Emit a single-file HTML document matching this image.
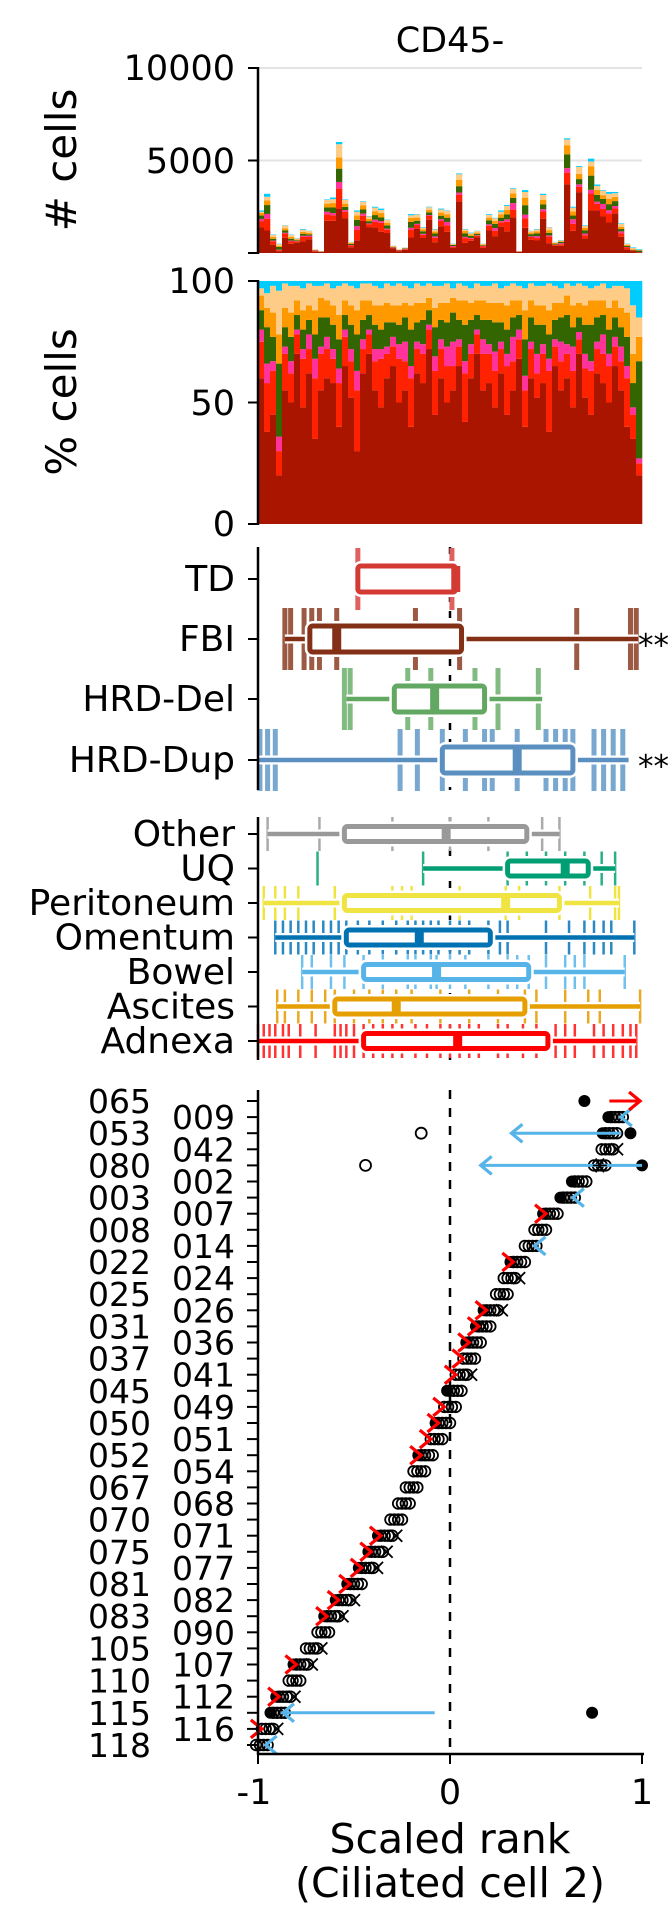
<!DOCTYPE html>
<html><head><meta charset="utf-8"><title>CD45- chart</title>
<style>
html,body{margin:0;padding:0;background:#fff;}
svg{display:block;font-family:"DejaVu Sans","Liberation Sans",sans-serif;}
</style></head>
<body>
<svg id="chart" xmlns="http://www.w3.org/2000/svg" width="672" height="1920" viewBox="0 0 672 1920">
<rect x="0" y="0" width="672" height="1920" fill="#fff"/>
<text x="450" y="52" font-size="35" text-anchor="middle">CD45-</text>
<g>
<line x1="258" y1="160.5" x2="642" y2="160.5" stroke="#e3e3e3" stroke-width="2"/>
<line x1="258" y1="68" x2="642" y2="68" stroke="#e3e3e3" stroke-width="2"/>
<g id="countBars"></g>
<line x1="258" y1="67" x2="258" y2="254" stroke="#000" stroke-width="2.5"/>
<g stroke="#000" stroke-width="2">
<line x1="248" y1="68" x2="258" y2="68"/><line x1="248" y1="160.5" x2="258" y2="160.5"/><line x1="248" y1="253" x2="258" y2="253"/></g>
<g font-size="35" text-anchor="end">
<text x="235" y="80">10000</text><text x="235" y="173">5000</text></g>
<text transform="translate(76,160) rotate(-90)" font-size="42" text-anchor="middle"># cells</text>
</g>
<g>
<g id="pctBars"></g>
<line x1="258" y1="280" x2="258" y2="525" stroke="#000" stroke-width="2.5"/>
<g stroke="#000" stroke-width="2">
<line x1="248" y1="281" x2="258" y2="281"/><line x1="248" y1="402.5" x2="258" y2="402.5"/><line x1="248" y1="524" x2="258" y2="524"/></g>
<g font-size="35" text-anchor="end">
<text x="235" y="293">100</text><text x="235" y="415">50</text><text x="235" y="536">0</text></g>
<text transform="translate(76,402) rotate(-90)" font-size="42" text-anchor="middle">% cells</text>
</g>
<g id="box1"></g>
<g id="box2"></g>
<g id="scatter"></g>
<g>
<line x1="257" y1="1754" x2="644" y2="1754" stroke="#000" stroke-width="2.5"/>
<g stroke="#000" stroke-width="2"><line x1="258" y1="1754" x2="258" y2="1764"/><line x1="450" y1="1754" x2="450" y2="1764"/><line x1="642" y1="1754" x2="642" y2="1764"/></g>
<g font-size="35" text-anchor="middle">
<text x="254" y="1804">-1</text><text x="450" y="1804">0</text><text x="642" y="1804">1</text></g>
<text x="450" y="1853" font-size="41" text-anchor="middle">Scaled rank</text>
<text x="450" y="1897" font-size="41" text-anchor="middle">(Ciliated cell 2)</text>
</g>
</svg>
<script>
const countTotals = [2.3,3.2,1.0,0.5,1.5,1.0,0.8,1.3,1.2,0.2,0.1,2.9,3.0,6.0,2.9,0.6,2.3,2.8,2.0,2.5,2.4,1.8,0.4,0.2,0.3,2.1,2.1,1.4,2.5,1.3,2.4,2.3,0.5,4.3,1.3,1.1,1.2,0.5,2.1,1.9,2.3,2.6,3.5,0.1,3.4,1.2,1.3,3.2,1.4,0.6,0.7,6.2,2.5,4.7,1.5,5.1,3.7,3.4,3.3,3.3,1.6,0.5,0.3,0.2];
const pctDarkRed = [60,38,45,20,55,50,70,48,62,35,55,60,58,40,65,52,30,62,70,55,48,60,65,50,55,40,62,58,72,45,60,50,55,65,42,60,70,55,58,48,62,45,55,68,40,60,52,58,38,65,55,60,48,70,52,45,62,58,50,65,55,40,35,20];
const pctRed = [15,20,18,10,15,12,8,20,10,25,15,12,10,18,12,15,25,10,8,12,20,10,8,18,12,20,10,12,8,18,12,15,10,8,20,10,8,15,12,15,10,20,12,8,15,12,10,12,25,8,12,10,15,6,12,18,10,12,15,8,12,20,10,5];
const pctPink = [5,8,4,6,3,5,2,4,6,8,3,5,4,6,3,5,8,4,2,5,4,3,4,6,8,5,3,4,2,6,4,8,10,3,5,4,2,6,4,8,3,5,10,4,6,3,8,4,5,3,8,4,10,3,6,4,3,8,5,4,6,5,3,2];
const pctGreen = [8,15,10,30,8,10,6,8,6,10,12,8,10,12,6,10,15,8,6,10,8,10,6,8,10,15,8,10,6,12,8,10,12,8,15,10,6,8,10,12,8,10,8,6,15,10,12,8,10,8,10,12,8,6,12,15,10,8,10,8,8,12,10,40];
const pctOrange = [6,8,10,12,8,10,6,8,6,10,8,7,8,10,6,8,10,8,6,8,10,8,7,8,6,10,8,7,5,8,7,8,6,8,10,7,6,8,7,8,8,10,7,6,12,7,8,8,10,7,6,8,9,6,8,10,7,6,9,7,8,10,12,10];
const pctCyan = [3,5,2,4,1,2,2,3,1,2,2,1,3,2,1,2,3,1,1,2,3,1,2,1,2,3,1,2,1,2,2,1,3,1,2,3,1,2,2,1,3,2,1,2,3,1,2,2,1,2,3,1,2,1,2,3,2,1,3,2,2,3,10,15];
const layerColors = ['#aa1500','#ff2200','#ff3399','#336600','#ff9900','#ffcc88','#00ccff'];

const sigNames = ['TD','FBI','HRD-Del','HRD-Dup'];
const sigStats = [[-0.48,-0.48,0.03,0.03,0.03],[-0.86,-0.73,-0.59,0.06,0.98],[-0.54,-0.29,-0.08,0.18,0.48],[-1.0,-0.04,0.35,0.64,0.93]];
const sigRugTD = [-0.48,0.01];
const sigRugFBI = [-0.86,-0.83,-0.76,-0.72,-0.68,-0.59,-0.18,0.05,0.66,0.94,0.97];
const sigRugDel = [-0.55,-0.52,-0.22,-0.1,0.13,0.25,0.46];
const sigRugDup = [-0.99,-0.95,-0.91,-0.26,-0.17,-0.04,0.08,0.18,0.22,0.35,0.5,0.55,0.6,0.64,0.75,0.8,0.85,0.9];
const sigStars = ['','**','','**'];
const siteNames = ['Other','UQ','Peritoneum','Omentum','Bowel','Ascites','Adnexa'];
const siteStats = [[-0.95,-0.55,-0.02,0.40,0.57],[-0.14,0.30,0.60,0.72,0.86],[-0.97,-0.55,0.29,0.57,0.88],[-0.91,-0.54,-0.16,0.21,0.96],[-0.77,-0.45,-0.07,0.41,0.91],[-0.90,-0.60,-0.28,0.39,0.99],[-1.0,-0.45,0.04,0.51,0.97]];
const rugOther = [-0.95,-0.68,-0.3,0.0,0.2,0.48,0.57];
const rugUQ = [-0.69,-0.14,0.3,0.4,0.5,0.6,0.7,0.79,0.86];
const rugPerit = [-0.97,-0.91,-0.86,-0.79,-0.6,-0.3,-0.25,-0.2,0.05,0.29,0.36,0.57,0.73,0.86,0.88];
const rugOment = [-0.91,-0.87,-0.83,-0.79,-0.75,-0.71,-0.66,-0.62,-0.58,-0.54,-0.48,-0.42,-0.35,-0.28,-0.22,-0.18,-0.14,-0.1,-0.06,0.0,0.05,0.1,0.2,0.26,0.3,0.5,0.62,0.7,0.75,0.8,0.84,0.96];
const rugBowel = [-0.77,-0.72,-0.62,-0.55,-0.45,-0.35,-0.22,-0.18,-0.1,-0.07,0.0,0.08,0.2,0.3,0.35,0.41,0.5,0.6,0.65,0.7,0.91];
const rugAsc = [-0.9,-0.86,-0.79,-0.72,-0.65,-0.6,-0.5,-0.42,-0.35,-0.28,-0.2,-0.05,0.1,0.25,0.39,0.45,0.6,0.72,0.78,0.99];
const rugAdn = [-1,-0.97,-0.94,-0.91,-0.87,-0.84,-0.78,-0.7,-0.6,-0.57,-0.54,-0.5,-0.45,-0.4,-0.35,-0.3,-0.25,-0.18,-0.12,-0.05,0.0,0.05,0.1,0.15,0.25,0.3,0.38,0.45,0.55,0.6,0.65,0.75,0.8,0.85,0.9,0.94,0.97];

const rowLabels = ['065','009','053','042','080','002','003','007','008','014','022','024','025','026','031','036','037','041','045','049','050','051','052','054','067','068','070','071','075','077','081','082','083','090','105','107','110','112','115','116','118'];
const rowCenters = [0.97,0.87,0.84,0.82,0.78,0.68,0.62,0.53,0.47,0.42,0.36,0.31,0.27,0.22,0.18,0.13,0.10,0.06,0.03,0.00,-0.03,-0.07,-0.12,-0.16,-0.20,-0.24,-0.28,-0.33,-0.38,-0.43,-0.49,-0.55,-0.61,-0.66,-0.72,-0.77,-0.81,-0.86,-0.89,-0.95,-0.98];
const rowFilled = [0,1,1,0,0,1,1,1,0,0,1,0,0,1,1,1,0,0,1,0,1,0,1,0,0,0,0,1,1,1,1,1,1,0,0,1,0,1,1,0,0];
const rowRedArrow = [0,0,0,0,0,0,0,1,0,0,1,0,0,1,1,1,1,1,0,1,1,1,1,0,0,0,0,1,1,1,1,1,1,0,0,1,0,1,0,1,0];
const rowCross = [0,0,0,1,0,0,0,0,0,0,0,1,0,1,0,0,0,1,0,0,0,0,0,0,0,0,0,1,1,1,0,1,1,0,1,1,0,1,0,1,0];
const rowBlueArrow = [0,1,0,0,0,0,1,0,0,1,0,0,0,0,0,0,0,0,0,0,0,0,0,0,0,0,0,0,0,0,0,0,0,0,0,0,0,0,0,0,1];
const outlierRows = [2,4];
const outlierValues = [-0.15,-0.44];
const extraFilledRows = [0,2,4,38];
const extraFilledValues = [0.70,0.94,1.0,0.74];
const longBlueRows = [2,4,38];
const longBlueFrom = [0.89,1.0,-0.08];
const longBlueTo = [0.32,0.16,-0.87];

const NS = 'http://www.w3.org/2000/svg';
const X0 = 258, PW = 384;
function xs(v){ return 450 + 192*v; }
function yCount(c){ return 253 - c/10*185; }
function yPct(p){ return 524 - p*2.43; }
function rowY(i){ return 1101 + 16.1*i; }
function mk(tag, attrs, parent){ const e=document.createElementNS(NS,tag); for(const k in attrs) e.setAttribute(k,attrs[k]); parent.appendChild(e); return e; }

const cg = document.getElementById('countBars');
const pg = document.getElementById('pctBars');
const nBars = countTotals.length;
const bw = PW/nBars;
for(let i=0;i<nBars;i++){
  let others = pctDarkRed[i]+pctRed[i]+pctPink[i]+pctGreen[i]+pctOrange[i]+pctCyan[i];
  let peach = Math.max(0,100-others);
  const parts=[pctDarkRed[i],pctRed[i],pctPink[i],pctGreen[i],pctOrange[i],peach,pctCyan[i]];
  const sum = parts.reduce((a,b)=>a+b,0);
  let accP=0, accC=0;
  const x = X0 + i*bw;
  for(let k=0;k<parts.length;k++){
    const f = parts[k]/sum;
    const p0=accP, p1=accP+f*100; accP=p1;
    const r = mk('rect',{x:x,y:yPct(p1),width:bw+0.3,height:yPct(p0)-yPct(p1),fill:layerColors[k]},pg);
    
    
    const c0=accC, c1=accC+f*countTotals[i]; accC=c1;
    const r2 = mk('rect',{x:x,y:yCount(c1),width:bw+0.3,height:yCount(c0)-yCount(c1),fill:layerColors[k]},cg);
    
    
  }
}

function drawPanel(g, names, stats, rugs, colors, rugColors, y0, y1, rowPos, boxH, rugH, rugW, fontSize, stars, panelName){
  const zl = mk('line',{x1:450,y1:y0,x2:450,y2:y1,stroke:'#000','stroke-width':2.5,'stroke-dasharray':'7,9'},g);
  
  
  for(let i=0;i<names.length;i++){
    const y=rowPos[i], s=stats[i], col=colors[i];
    for(const v of rugs[i]){
      const rr = mk('rect',{x:xs(v)-rugW/2,y:y-rugH,width:rugW,height:2*rugH,fill:rugColors[i]},g);
      
      
    }
    mk('line',{x1:xs(s[0]),y1:y,x2:xs(s[4]),y2:y,stroke:'#fff','stroke-width':9},g);
    const wl = mk('line',{x1:xs(s[0]),y1:y,x2:xs(s[4]),y2:y,stroke:col,'stroke-width':4.5},g);
    
    
    mk('rect',{x:xs(s[1]),y:y-boxH/2,width:xs(s[3])-xs(s[1]),height:boxH,fill:'#fff',stroke:'#fff','stroke-width':10,rx:3},g);
    const bx = mk('rect',{x:xs(s[1]),y:y-boxH/2,width:xs(s[3])-xs(s[1]),height:boxH,fill:'#fff',stroke:col,'stroke-width':5,rx:3},g);
    
    
    const md = mk('rect',{x:xs(s[2])-4.5,y:y-boxH/2,width:9,height:boxH,fill:col},g);
    
    
    const tk = mk('line',{x1:248,y1:y,x2:258,y2:y,stroke:'#000','stroke-width':2},g);
    
    
    const lb = mk('text',{x:235,y:y+12,'font-size':fontSize,'text-anchor':'end'},g);
    lb.textContent = names[i];
    
    
    if(stars && stars[i]){
      const st = mk('text',{x:638,y:y+17,'font-size':31},g);
      st.textContent = stars[i];
      
      
    }
  }
  const sp = mk('line',{x1:258,y1:y0,x2:258,y2:y1,stroke:'#000','stroke-width':2.5},g);
  
  
}
drawPanel(document.getElementById('box1'), sigNames, sigStats, [sigRugTD,sigRugFBI,sigRugDel,sigRugDup],
  ['#d43a34','#843016','#62a862','#5a8fc0'], ['#e06060','#9c5a44','#82bb82','#78a8d0'],
  547, 790, [579,639,699,760], 26, 31, 5, 36, sigStars, 'signature');
drawPanel(document.getElementById('box2'), siteNames, siteStats, [rugOther,rugUQ,rugPerit,rugOment,rugBowel,rugAsc,rugAdn],
  ['#999999','#009e73','#f0e442','#0072b2','#56b4e9','#e69f00','#ff0000'],
  ['#aaaaaa','#2ab088','#f0e442','#2a88c4','#70c0ee','#e8aa22','#ff3333'],
  817, 1060, [834,868.5,903,937.5,972,1006.5,1041], 15, 17, 2.5, 36, null, 'site');

const sg = document.getElementById('scatter');
const zl = mk('line',{x1:450,y1:1090,x2:450,y2:1754,stroke:'#000','stroke-width':2.5,'stroke-dasharray':'9,9'},sg);


function chevron(x,y,dir,col,name){
  const p = mk('polyline',{points:(x-dir*11)+','+(y-9)+' '+x+','+y+' '+(x-dir*11)+','+(y+9),fill:'none',stroke:col,'stroke-width':3.2},sg);
  
  
}
for(let i=0;i<rowLabels.length;i++){
  const y=rowY(i), c=rowCenters[i];
  const tk = mk('line',{x1:247,y1:y,x2:258,y2:y,stroke:'#000','stroke-width':2},sg);
  
  
  const lb = mk('text',{x:(i%2===0)?151:235,y:y+12,'font-size':33,'text-anchor':'end'},sg);
  lb.textContent = rowLabels[i];
  
  
  if(i===0) continue;
  for(const d of [-0.03,-0.01,0.01,0.03]){
    const ci = mk('circle',{cx:xs(c+d),cy:y,r:5.3,fill:'none',stroke:'#000','stroke-width':1.8},sg);
    
    
  }
  if(rowFilled[i]){
    const f = mk('circle',{cx:xs(c-0.045),cy:y,r:6,fill:'#000'},sg);
    
    
  }
  if(rowCross[i]){
    const xc=xs(c+0.05);
    const cr = mk('path',{d:'M'+(xc-6)+' '+(y-6)+'L'+(xc+6)+' '+(y+6)+'M'+(xc-6)+' '+(y+6)+'L'+(xc+6)+' '+(y-6),stroke:'#000','stroke-width':1.8},sg);
    
    
  }
  if(rowRedArrow[i]) chevron(xs(c-0.03),y,1,'#ff0000','red-arrow');
  if(rowBlueArrow[i]) chevron(xs(c+0.02),y,-1,'#56b4e9','blue-arrow');
}
(function(){
  const y=rowY(0);
  const l = mk('line',{x1:xs(0.83),y1:y,x2:xs(0.99),y2:y,stroke:'#ff0000','stroke-width':3},sg);
  
  
  chevron(xs(0.99),y,1,'#ff0000','red-arrow-head');
})();
for(let k=0;k<outlierRows.length;k++){
  const o = mk('circle',{cx:xs(outlierValues[k]),cy:rowY(outlierRows[k]),r:5.5,fill:'none',stroke:'#000','stroke-width':1.8},sg);
  
  
}
for(let k=0;k<extraFilledRows.length;k++){
  const o = mk('circle',{cx:xs(extraFilledValues[k]),cy:rowY(extraFilledRows[k]),r:6,fill:'#000'},sg);
  
  
}
for(let k=0;k<longBlueRows.length;k++){
  const y=rowY(longBlueRows[k]);
  const l = mk('line',{x1:xs(longBlueFrom[k]),y1:y,x2:xs(longBlueTo[k]),y2:y,stroke:'#56b4e9','stroke-width':3},sg);
  
  
  chevron(xs(longBlueTo[k]),y,-1,'#56b4e9','blue-arrow-head');
}
(function(){
  const y=rowY(4), x=xs(0.78);
  const s = mk('path',{d:'M'+(x-7)+' '+y+'L'+(x+7)+' '+y+'M'+(x-4)+' '+(y-7)+'L'+(x+4)+' '+(y+7)+'M'+(x-4)+' '+(y+7)+'L'+(x+4)+' '+(y-7),stroke:'#000','stroke-width':1.6},sg);
  
  
})();
const sp = mk('line',{x1:258,y1:1090,x2:258,y2:1755,stroke:'#000','stroke-width':2.5},sg);


</script>
</body></html>
